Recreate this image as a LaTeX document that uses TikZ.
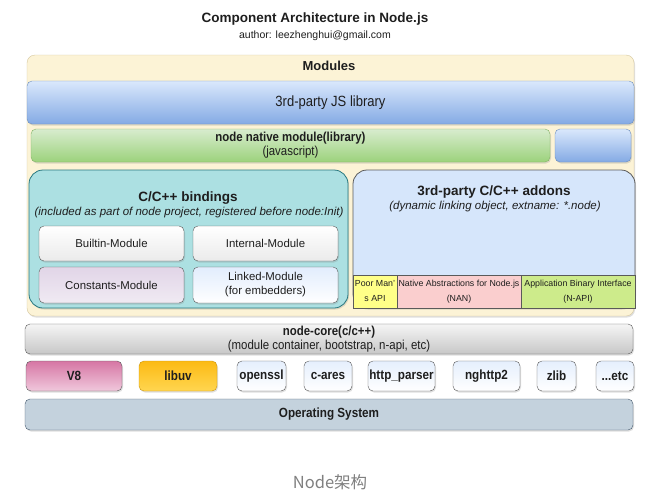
\documentclass[tikz,border=0pt]{standalone}
\usepackage{fontspec}
\setmainfont{Liberation Sans}
\newfontfamily\narrow{Liberation Sans}[FakeStretch=0.88]
\newfontfamily\cjk{Noto Sans CJK SC}
\usetikzlibrary{shadows}
\definecolor{modfill}{RGB}{252,243,214}
\definecolor{modline}{RGB}{214,200,160}
\definecolor{bluetop}{RGB}{218,232,252}
\definecolor{bluebot}{RGB}{132,170,228}
\definecolor{blueline}{RGB}{108,142,191}
\definecolor{greentop}{RGB}{216,236,206}
\definecolor{greenbot}{RGB}{156,210,124}
\definecolor{greenline}{RGB}{130,179,102}
\definecolor{tealfill}{RGB}{172,224,226}
\definecolor{tealline}{RGB}{40,120,128}
\definecolor{addfill}{RGB}{214,230,251}
\definecolor{poorfill}{RGB}{255,255,136}
\definecolor{nanfill}{RGB}{250,206,206}
\definecolor{napifill}{RGB}{205,235,139}
\definecolor{purpfill}{RGB}{225,213,231}
\definecolor{v8top}{RGB}{214,118,164}
\definecolor{v8bot}{RGB}{240,200,220}
\definecolor{uvtop}{RGB}{252,186,20}
\definecolor{uvbot}{RGB}{255,214,80}
\definecolor{osfill}{RGB}{196,210,221}
\definecolor{osline}{RGB}{70,90,110}
\definecolor{darkline}{RGB}{90,90,90}
\definecolor{txt}{RGB}{30,30,30}
\tikzset{
  base/.style={rounded corners=5pt, inner sep=0pt, align=center, text=txt,
    drop shadow={opacity=0.25, shadow xshift=1pt, shadow yshift=-1.5pt}},
  modpanel/.style={base, draw=modline, fill=modfill, rounded corners=8pt},
  bluebar/.style={base, draw=blueline, top color=bluetop, bottom color=bluebot},
  greenbar/.style={base, draw=greenline, top color=greentop, bottom color=greenbot},
  tealpanel/.style={base, draw=tealline, fill=tealfill, rounded corners=14pt, line width=0.8pt},
  addpanel/.style={base, draw=darkline, fill=addfill, rounded corners=14pt, line width=0.8pt},
  modbox/.style={base, draw=darkline, font=\fontsize{11.4}{14}\selectfont},
  whitebox/.style={modbox, top color=white, bottom color=white!92!black},
  purpbox/.style={modbox, top color=purpfill, bottom color=purpfill!50!white},
  lbluebox/.style={modbox, top color=bluetop!80!white, bottom color=white},
  apibox/.style={draw=darkline, inner sep=0pt, align=center, text=txt, font=\fontsize{8.8}{15}\selectfont},
  graybar/.style={base, draw=darkline, top color=white!96!black, bottom color=white!78!black},
  rowfont/.style={font=\narrow\bfseries\fontsize{13.3}{15}\selectfont},
  libbox/.style={base, draw=darkline, top color=bluetop!70!white, bottom color=white, rowfont},
  osbar/.style={base, draw=osline, fill=osfill},
  lbl/.style={inner sep=0pt, align=center, text=txt}
}
\begin{document}
\begin{tikzpicture}[x=1pt,y=-1pt]
\useasboundingbox[fill=white] (0,0) rectangle (650,493);
% title
\node[lbl, font=\bfseries\fontsize{13.5}{15}\selectfont] (title) at (315,19) {Component Architecture in Node.js};
\node[lbl, font=\fontsize{10.5}{12}\selectfont] (author) at (315,36) {author: leezhenghui@gmail.com};
% modules
\node[modpanel, minimum width=607pt, minimum height=261pt] (modules) at (330.5,185.5) {};
\node[lbl, font=\bfseries\fontsize{13}{15}\selectfont] (modlbl) at (329,66) {Modules};
\node[bluebar, minimum width=607pt, minimum height=43pt, font=\narrow\fontsize{14.8}{16}\selectfont] (jslib) at (330.5,102.5) {3rd-party JS library};
\node[greenbar, minimum width=519pt, minimum height=33pt, font=\narrow\fontsize{13}{14}\selectfont] (native) at (290.5,145.5) {\bfseries node native module(library)\\(javascript)};
\node[bluebar, minimum width=76pt, minimum height=33pt] (extra) at (593,145.5) {};
% bindings
\node[tealpanel, minimum width=319pt, minimum height=138pt] (bindings) at (188.5,239) {};
\node[lbl, font=\bfseries\fontsize{13.5}{15}\selectfont] (bindt) at (188,198) {C/C++ bindings};
\node[lbl, font=\itshape\fontsize{11.5}{13}\selectfont] (binds) at (189,213) {(included as part of node project, registered before node:Init)};
\node[whitebox, minimum width=145pt, minimum height=35pt] (builtin) at (111.5,243.5) {Builtin-Module};
\node[whitebox, minimum width=145pt, minimum height=35pt] (internal) at (265.5,243.5) {Internal-Module};
\node[purpbox, minimum width=145pt, minimum height=36pt] (constants) at (111.5,285) {Constants-Module};
\node[lbluebox, minimum width=145pt, minimum height=36pt] (linked) at (265.5,285) {Linked-Module\\(for embedders)};
% addons
\node[addpanel, minimum width=282pt, minimum height=138pt] (addons) at (494,239) {};
\node[lbl, font=\bfseries\fontsize{13.5}{15}\selectfont] (addt) at (494,192) {3rd-party C/C++ addons};
\node[lbl, font=\itshape\fontsize{11.5}{13}\selectfont] (adds) at (495,207) {(dynamic linking object, extname: *.node)};
\node[apibox, fill=poorfill, minimum width=44pt, minimum height=33pt] (poor) at (375,291.5) {Poor Man'\\s API};
\node[apibox, fill=nanfill, minimum width=124pt, minimum height=33pt] (nan) at (459,291.5) {Native Abstractions for Node.js\\(NAN)};
\node[apibox, fill=napifill, minimum width=114pt, minimum height=33pt] (napi) at (578,291.5) {Application Binary Interface\\(N-API)};
% node-core
\node[graybar, minimum width=608pt, minimum height=30pt, font=\narrow\fontsize{13}{14}\selectfont] (core) at (329,339) {\bfseries node-core(c/c++)\\(module container, bootstrap, n-api, etc)};
% libraries
\node[base, draw=darkline, top color=v8top, bottom color=v8bot, minimum width=96pt, minimum height=30pt, rowfont] (v8) at (74,376) {V8};
\node[base, draw=uvtop!80!black, top color=uvtop, bottom color=uvbot, minimum width=78pt, minimum height=30pt, rowfont] (libuv) at (178,376) {libuv};
\node[libbox, minimum width=49pt, minimum height=30pt] (openssl) at (261.5,376) {openssl};
\node[libbox, minimum width=48pt, minimum height=30pt] (cares) at (328,376) {c-ares};
\node[libbox, minimum width=67pt, minimum height=30pt] (http) at (401.5,376) {http\_parser};
\node[libbox, minimum width=67pt, minimum height=30pt] (nghttp) at (486.5,376) {nghttp2};
\node[libbox, minimum width=39pt, minimum height=30pt] (zlib) at (556.5,376) {zlib};
\node[libbox, minimum width=38pt, minimum height=30pt] (etc) at (615,376) {...etc};
% OS
\node[osbar, minimum width=608pt, minimum height=31pt, rowfont] (os) at (329,414.5) {Operating System};
% caption
\node[lbl, text=black!50, font=\cjk\fontsize{16.5}{18}\selectfont] (caption) at (330,482) {Node架构};
\end{tikzpicture}
\end{document}
